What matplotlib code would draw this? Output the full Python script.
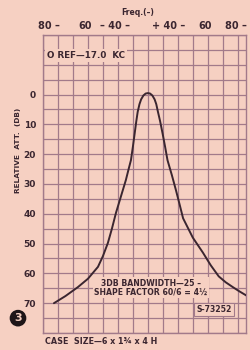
import numpy as np
import matplotlib.pyplot as plt

# response curve: x in grid cells from centre, y in dB
curve_x = [-6.27, -5.5, -4.67, -4.0, -3.33, -3.0, -2.67, -2.4, -2.13, -1.8, -1.47, -1.3,
           -1.13, -1.0, -0.88, -0.78, -0.68, -0.56, -0.45, -0.3, -0.15, 0.0,
           0.15, 0.3, 0.45, 0.56, 0.66, 0.82, 0.98, 1.15, 1.31, 1.6, 1.87, 2.1, 2.35,
           3.0, 3.67, 4.2, 4.73, 5.2, 5.67, 6.1, 6.6]
curve_db = [70, 67.6, 64.6, 61.8, 57.8, 54.2, 49.8, 45, 39.7, 34.2, 28.7, 25.3,
            22, 17.5, 13, 9.2, 5.8, 3.2, 1.6, 0.3, -0.35, -0.5,
            -0.35, 0.3, 1.6, 3.2, 5.5, 9, 13, 17.5, 22, 27, 32, 36.5, 41.5,
            48, 53, 57.3, 61, 63, 64.6, 66, 67.5]

freq_pos = [-6.6, -4.2, -2.2, 0, 1.4, 3.8, 5.9]
freq_labels = ["80 \u2013", "60", "\u2013 40 \u2013", "0", "+ 40 \u2013", "60", "80 \u2013"]
att_ticks = [0, 10, 20, 30, 40, 50, 60, 70]

bg = "#f6d0c2"
grid_c = "#a27a8a"
ink = "#3b2630"

fig = plt.figure(figsize=(2.5, 3.5), dpi=100, facecolor=bg)
ax = fig.add_axes([0.172, 0.0486, 0.812, 0.8514], facecolor=bg)

ax.set_xlim(-7, 6.55)
ax.set_ylim(80, -20)

ax.set_xticks(np.arange(-7, 7, 1))
ax.set_xticks(freq_pos, labels=freq_labels, minor=True)
ax.set_yticks(att_ticks, labels=[str(t) for t in att_ticks])
ax.set_yticks(np.arange(-20, 81, 5), minor=True)
ax.tick_params(axis="x", which="major", length=0, labelbottom=False, labeltop=False)
ax.tick_params(axis="x", which="minor", length=0, labelbottom=False, labeltop=True,
               pad=3, labelsize=7, labelcolor=ink)
ax.tick_params(axis="y", which="both", length=0, pad=5, labelsize=6.5, labelcolor=ink)
for lab in ax.get_xticklabels(minor=True) + ax.get_yticklabels():
    lab.set_fontweight("bold")

ax.grid(which="major", axis="x", color=grid_c, lw=0.9)
ax.grid(which="minor", axis="y", color=grid_c, lw=0.9)
ax.grid(which="major", axis="y", color=grid_c, lw=0.9)
for s in ax.spines.values():
    s.set_color(grid_c)
    s.set_linewidth(1.0)

ax.plot(curve_x, curve_db, color=ink, lw=1.4, solid_capstyle="round",
        solid_joinstyle="round", zorder=3)

ax.text(-6.72, -13, "O REF\u201417.0  KC", fontsize=6.3, fontweight="bold", color=ink,
        va="center", ha="left",
        bbox=dict(facecolor=bg, edgecolor="none", pad=1.5), zorder=4)
ax.text(0.2, 64.8, "3DB BANDWIDTH\u201425 \u2013\nSHAPE FACTOR 60/6 = 4\u00bd", fontsize=5.6,
        fontweight="bold", color=ink, ha="center", va="center", linespacing=1.05,
        bbox=dict(facecolor=bg, edgecolor="none", pad=0.8), zorder=4)
ax.text(4.4, 72, "S-73252", fontsize=5.6, fontweight="bold", color=ink, ha="center",
        va="center", bbox=dict(facecolor=bg, edgecolor=grid_c, lw=0.8, pad=1.5), zorder=4)

fig.text(0.55, 0.965, "Freq.(\u2013)", fontsize=5.5, fontweight="bold", color=ink,
         ha="center", va="center")
fig.text(0.072, 0.57, "RELATIVE  ATT.  (DB)", fontsize=5.3, fontweight="bold", color=ink,
         rotation=90, ha="center", va="center")
fig.text(0.072, 0.091, "3", fontsize=8, fontweight="bold", color=bg, ha="center",
         va="center", bbox=dict(boxstyle="circle,pad=0.3", facecolor="#1e1518",
                                edgecolor="none"))
fig.text(0.18, 0.023, "CASE  SIZE\u20146 x 1\u00be x 4 H", fontsize=5.8, fontweight="bold",
         color=ink, ha="left", va="center")

fig.savefig("out.png", dpi=100, facecolor=bg)
